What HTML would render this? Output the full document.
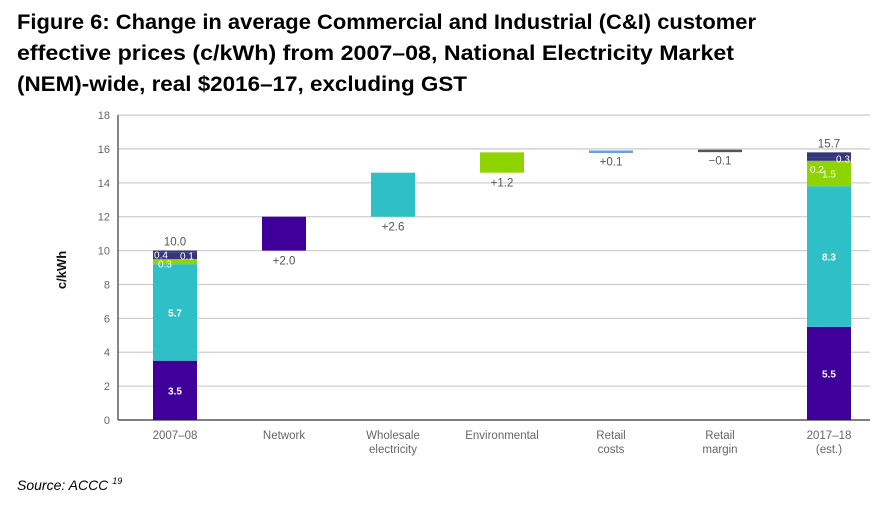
<!DOCTYPE html>
<html><head><meta charset="utf-8"><style>
body{margin:0;background:#fff;}
svg{display:block;font-family:"Liberation Sans",sans-serif;}
</style></head><body>
<svg id="chart" width="890" height="509" viewBox="0 0 890 509">
<g font-weight="bold" font-size="21" fill="#000">
<text x="17" y="29" textLength="739" lengthAdjust="spacingAndGlyphs">Figure 6: Change in average Commercial and Industrial (C&amp;I) customer</text>
<text x="17" y="60" textLength="717" lengthAdjust="spacingAndGlyphs">effective prices (c/kWh) from 2007–08, National Electricity Market</text>
<text x="17" y="91" textLength="450" lengthAdjust="spacingAndGlyphs">(NEM)-wide, real $2016–17, excluding GST</text>
</g>
<text transform="translate(66,270) rotate(-90)" text-anchor="middle" font-weight="bold" font-size="13" fill="#111">c/kWh</text>
<g id="grid"></g><g id="bars"></g><g id="labels"></g>
<text x="17" y="490" font-style="italic" font-size="14" fill="#000">Source: ACCC <tspan font-size="9" dy="-6">19</tspan></text>
</svg>
<script>
const categories=["2007–08","Network","Wholesale|electricity","Environmental","Retail|costs","Retail|margin","2017–18|(est.)"];
const startStack=[3.5,5.7,0.3,0.4,0.1];
const startLabels=["3.5","5.7","0.3","0.4","0.1"];
const endStack=[5.5,8.3,1.5,0.2,0.3];
const endLabels=["5.5","8.3","1.5","0.2","0.3"];
const changes=[2.0,2.6,1.2,0.1,-0.1];
const changeLabels=["+2.0","+2.6","+1.2","+0.1","−0.1"];
const startTotal="10.0", endTotal="15.7";
const yTicks=[0,2,4,6,8,10,12,14,16,18];
const segColors=["#3f0099","#2fbfc6","#8fd400","#35357a","#35357a"];
const changeColors=["#3f0099","#2fbfc6","#8fd400","#6a9ee0","#555"];
const NS="http://www.w3.org/2000/svg";
const y0=420, pxPerUnit=16.94, xL=118, xR=870, step=109, bw=44, firstC=175;
const y=v=>y0-v*pxPerUnit, xc=i=>firstC+i*step;
function mk(tag,attrs,parent,txt){const e=document.createElementNS(NS,tag);for(const k in attrs)e.setAttribute(k,attrs[k]);if(txt!=null)e.textContent=txt;parent.appendChild(e);return e;}
const G=document.getElementById('grid'),B=document.getElementById('bars'),L=document.getElementById('labels');
yTicks.forEach(t=>{
 const l=mk('line',{x1:xL,x2:xR,y1:y(t),y2:y(t),stroke:t===0?'#555':'#cfcfcf','stroke-width':t===0?1.5:1.3},G);
 
 
 const tx=mk('text',{x:110,y:y(t)+4,'text-anchor':'end','font-size':11,fill:'#666'},G,t);
 
 
});
const ax=mk('line',{x1:xL,x2:xL,y1:y(18),y2:y0,stroke:'#444','stroke-width':1.3},G);


categories.forEach((c,i)=>{
 const parts=c.split('|');
 parts.forEach((p,j)=>{
  const t=mk('text',{x:xc(i),y:y0+19+j*14,'text-anchor':'middle','font-size':11.5,fill:'#666'},L,p);
  
  
 });
});
function stack(i,vals,labs,total,tag){
 let acc=0;
 vals.forEach((v,k)=>{
  const r=mk('rect',{x:xc(i)-bw/2,y:y(acc+v),width:bw,height:v*pxPerUnit,fill:segColors[k]},B);
  
  
  acc+=v;
 });
 let a=0;
 vals.forEach((v,k)=>{
  let lx=xc(i), ly=y(a+v/2)+4, fs=10;
  if(k===2){ly=y(a+v/2)+ (v<1?6:4);lx=xc(i)-(v<1?10:0);}
  if(k===3){lx=xc(i)-14;ly=y(a+v)+6;}
  if(k===4){lx=xc(i)+12;ly=y(a)+7;}
  if(tag==='end'&&k===3){lx=xc(i)-12;ly=y(a)+12;}
  if(tag==='end'&&k===4){lx=xc(i)+14;ly=y(a)+5;}
  const t=mk('text',{x:lx,y:ly,'text-anchor':'middle','font-size':fs,'font-weight':k<2?'bold':'normal',fill:'#fff'},L,labs[k]);
  
  
  a+=v;
 });
 const tt=mk('text',{x:xc(i),y:y(acc)-5,'text-anchor':'middle','font-size':11.5,fill:'#555'},L,total);
 
 
}
stack(0,startStack,startLabels,startTotal,'start');
let base=startStack.reduce((s,v)=>s+v,0);
changes.forEach((d,k)=>{
 const i=k+1, lo=Math.min(base,base+d), hi=Math.max(base,base+d);
 const h=Math.max(Math.abs(d)*pxPerUnit,2.5);
 const r=mk('rect',{x:xc(i)-bw/2,y:Math.abs(d)<0.5?y(Math.max(base,15.85))-1:y(hi),width:bw,height:h,fill:changeColors[k]},B);
 
 
 const t=mk('text',{x:xc(i),y:(Math.abs(d)<0.5?y(Math.max(base,15.85)):y(lo))+14,'text-anchor':'middle','font-size':11.5,fill:'#555'},L,changeLabels[k]);
 
 
 base+=d;
});
stack(6,endStack,endLabels,endTotal,'end');
</script>
</body></html>
